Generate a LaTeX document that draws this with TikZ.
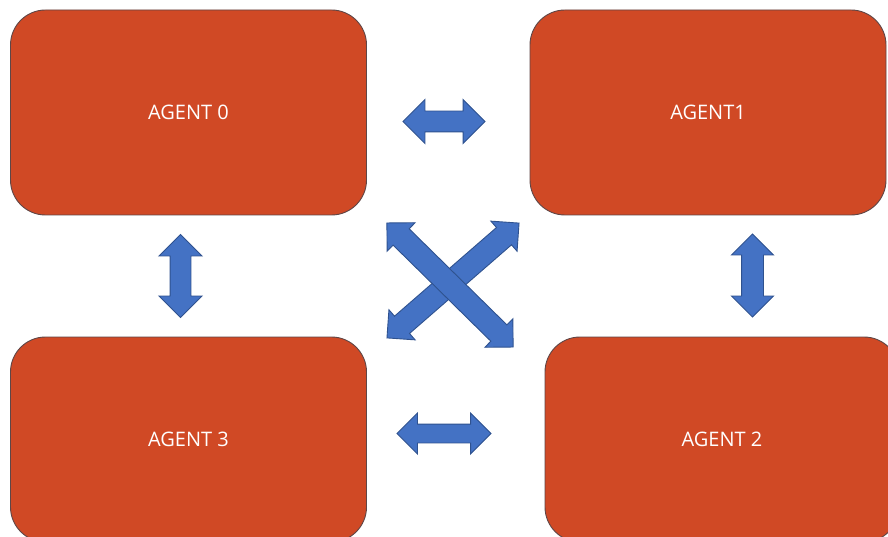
\documentclass[tikz,border=0pt]{standalone}
\usepackage{fontspec}
\setmainfont{Open Sans}
\usetikzlibrary{shapes.arrows}
\definecolor{agentfill}{RGB}{208,73,37}
\definecolor{agentedge}{RGB}{95,70,70}
\definecolor{linkfill}{RGB}{68,114,196}
\definecolor{linkedge}{RGB}{47,82,143}
\tikzset{
  agent/.style={draw=agentedge, line width=0.9pt, fill=agentfill,
    rounded corners=35pt, minimum width=356pt, minimum height=205pt,
    text=white, font=\fontsize{20pt}{24pt}\selectfont, inner sep=0pt},
  % block double arrow: shaft half width, head overhang, overall length
  link/.style n args={3}{double arrow, draw=linkedge, line width=0.9pt,
    fill=linkfill, inner xsep=0pt, inner ysep=#1,
    double arrow head extend=#2, double arrow tip angle=90,
    minimum height=#3},
}
\begin{document}
\begin{tikzpicture}[x=1pt,y=-1pt]
  \useasboundingbox (0,0) rectangle (888,537);
  \clip (0,0) rectangle (888,537);
  \fill[white] (0,0) rectangle (888,537);

  % four agents
  \node[agent] (a0) at (188.5,112.5) {AGENT 0};
  \node[agent] (a1) at (708,112.5) {AGENT1};
  \node[agent] (a3) at (188.5,439.5) {AGENT 3};
  \node[agent, minimum width=354pt] (a2) at (722,439.5) {AGENT 2};

  % horizontal links
  \node[link={10pt}{11.5pt}{82pt}] (l01) at (444,121.5) {};
  \node[link={9pt}{11pt}{94pt}] (l32) at (444,433.5) {};

  % vertical links
  \node[link={10pt}{11pt}{83pt}, rotate=90] (l03) at (180.5,276) {};
  \node[link={10.5pt}{10pt}{83pt}, rotate=90] (l12) at (752.5,275.5) {};

  % crossing diagonal links
  \node[link={11pt}{8.5pt}{175pt}, rotate=41] (l31) at (453,280.5) {};
  \node[link={11pt}{8.5pt}{177pt}, rotate=-44.5] (l02) at (450,285) {};
\end{tikzpicture}
\end{document}
